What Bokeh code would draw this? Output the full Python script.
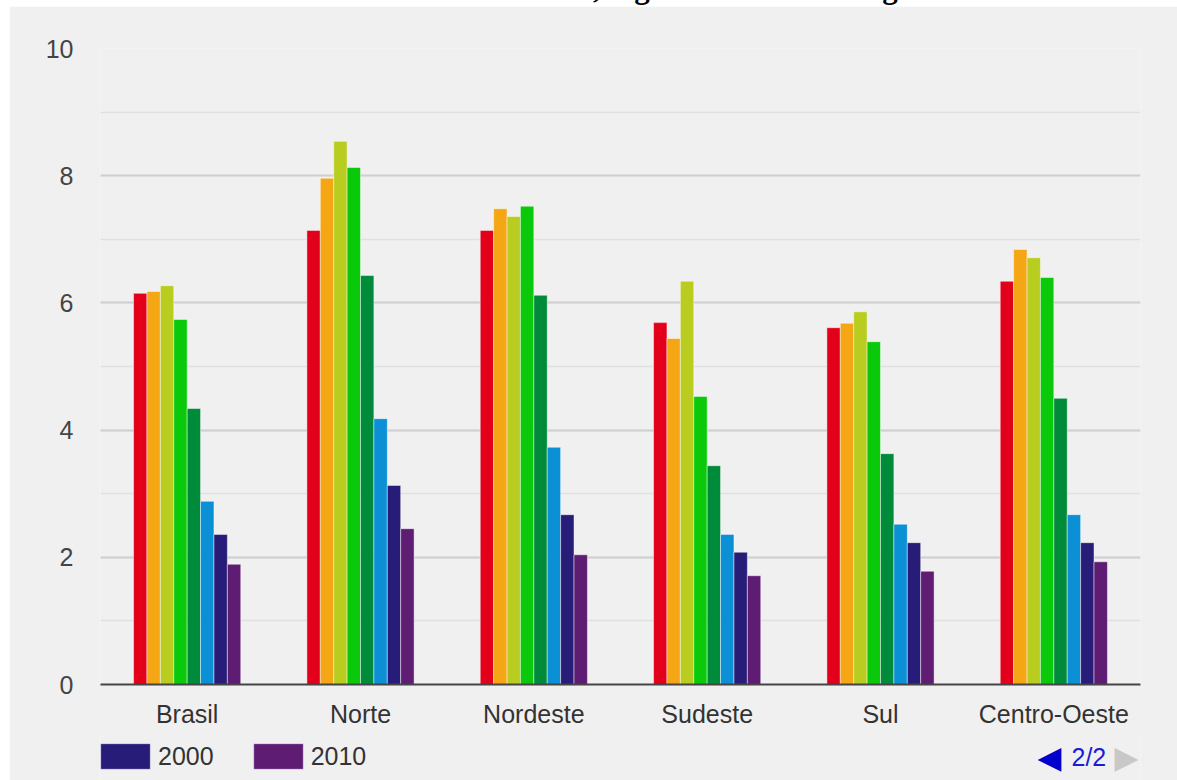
from bokeh.plotting import figure
from bokeh.models import (ColumnDataSource, FactorRange, Range1d, SingleIntervalTicker,
                          Legend, LegendItem, Label, Div)
from bokeh.layouts import column
from bokeh.transform import dodge
from bokeh.embed import file_html
from bokeh.resources import INLINE

regions = ["Brasil", "Norte", "Nordeste", "Sudeste", "Sul", "Centro-Oeste"]
years = ["1940", "1950", "1960", "1970", "1980", "1991", "2000", "2010"]
v1940 = [6.15, 7.14, 7.14, 5.69, 5.61, 6.34]
v1950 = [6.18, 7.96, 7.48, 5.44, 5.68, 6.84]
v1960 = [6.27, 8.54, 7.36, 6.34, 5.86, 6.71]
v1970 = [5.74, 8.13, 7.52, 4.53, 5.39, 6.40]
v1980 = [4.34, 6.43, 6.12, 3.44, 3.63, 4.50]
v1991 = [2.88, 4.18, 3.73, 2.36, 2.52, 2.67]
v2000 = [2.36, 3.13, 2.67, 2.08, 2.23, 2.23]
v2010 = [1.89, 2.45, 2.04, 1.71, 1.78, 1.93]
series = [v1940, v1950, v1960, v1970, v1980, v1991, v2000, v2010]
colors = ["#e2001a", "#f5a614", "#b9cd20", "#0ac90a", "#008b3b", "#0b8fd5", "#271d78", "#5e1d73"]
legend_years = ["2000", "2010"]
legend_colors = ["#271d78", "#5e1d73"]
pager_text = "2/2"
title_text = "Taxa de fecundidade total, segundo Grandes Regiões"

FONT = "Liberation Sans"
FS = "25px"
BG = "#f0f0f0"

data = {"region": regions}
for y, s in zip(years, series):
    data["y" + y] = s
source = ColumnDataSource(data)

p = figure(x_range=FactorRange(*regions), y_range=Range1d(0, 10),
           width=1168, height=729, output_backend="svg", toolbar_location=None,
           min_border_left=91, min_border_right=37, min_border_top=42, min_border_bottom=51,
           background_fill_color=BG, border_fill_color=BG, outline_line_color=None)
p.margin = (0, 0, 0, 9)

bw = 0.0773
for i, (y, c) in enumerate(zip(years, colors)):
    p.vbar(x=dodge("region", (i - 3.5) * bw, range=p.x_range), top="y" + y,
           width=bw, source=source, fill_color=c, line_color="white",
           line_alpha=0.45, line_width=1)

p.yaxis.ticker = SingleIntervalTicker(interval=2, num_minor_ticks=2)
p.ygrid.grid_line_color = "#cfcfcf"
p.ygrid.grid_line_width = 2
p.ygrid.minor_grid_line_color = "#e0e0e0"
p.ygrid.minor_grid_line_width = 1.5
p.xgrid.grid_line_color = None

p.yaxis.axis_line_color = None
p.yaxis.major_tick_line_color = None
p.yaxis.minor_tick_line_color = None
p.yaxis.major_tick_out = 0
p.yaxis.minor_tick_out = 0
p.yaxis.major_label_standoff = 27
p.yaxis.major_label_text_font = FONT
p.yaxis.major_label_text_font_size = FS
p.yaxis.major_label_text_color = "#444444"

p.xaxis.axis_line_color = "#444444"
p.xaxis.axis_line_width = 2
p.xaxis.major_tick_line_color = None
p.xaxis.minor_tick_line_color = None
p.xaxis.major_tick_out = 0
p.xaxis.minor_tick_out = 0
p.xaxis.major_label_standoff = 15
p.xaxis.major_label_text_font = FONT
p.xaxis.major_label_text_font_size = FS
p.xaxis.major_label_text_color = "#333333"

# bottom strip: legend (page 2/2 of the series legend) and pager
p2 = figure(x_range=Range1d(0, 1), y_range=Range1d(0, 1), width=1168, height=47,
            output_backend="svg", toolbar_location=None,
            x_axis_location=None, y_axis_location=None,
            min_border=0, min_border_left=0, min_border_right=0,
            min_border_top=0, min_border_bottom=0,
            background_fill_color=BG, border_fill_color=BG, outline_line_color=None)
p2.margin = (-2, 0, 0, 9)
p2.grid.visible = False
items = []
for lab, c in zip(legend_years, legend_colors):
    # legend proxy: one bar lying outside the visible range of this strip
    r = p2.vbar(x=[-10], top=[-10], bottom=[-11], width=0.1, fill_color=c,
                line_color="white", line_alpha=0.45, line_width=1)
    items.append(LegendItem(label=lab, renderers=[r]))
legend = Legend(items=items, location=(-6, 8), orientation="horizontal",
                glyph_width=62, glyph_height=32, label_standoff=2, spacing=33,
                padding=0, margin=0, border_line_alpha=0, background_fill_alpha=0,
                label_text_font=FONT, label_text_font_size=FS,
                label_text_color="#333333", label_height=32)
p2.add_layout(legend)

p2.add_layout(Label(x=937, y=24, x_units="screen", y_units="screen", text="◀",
                    text_font="DejaVu Sans", text_font_size="31px", text_color="#0000cc",
                    text_baseline="middle"))
p2.add_layout(Label(x=971, y=24, x_units="screen", y_units="screen", text=pager_text,
                    text_font=FONT, text_font_size=FS, text_color="#1c1cd8",
                    text_baseline="middle"))
p2.add_layout(Label(x=1014, y=24, x_units="screen", y_units="screen", text="▶",
                    text_font="DejaVu Sans", text_font_size="31px", text_color="#c8c8c8",
                    text_baseline="middle"))

title_div = Div(
    text=('<div style="position:relative; top:-27px; width:1200px; text-align:center; '
          'font-family:\'Liberation Serif\'; font-weight:bold; font-size:31px; '
          'line-height:30px; color:#000;">' + title_text + '</div>'),
    width=1177, height=6, styles={"overflow": "hidden"}, margin=0)

layout = column(title_div, p, p2, spacing=0)
open("out.html", "w").write(file_html(layout, INLINE))
